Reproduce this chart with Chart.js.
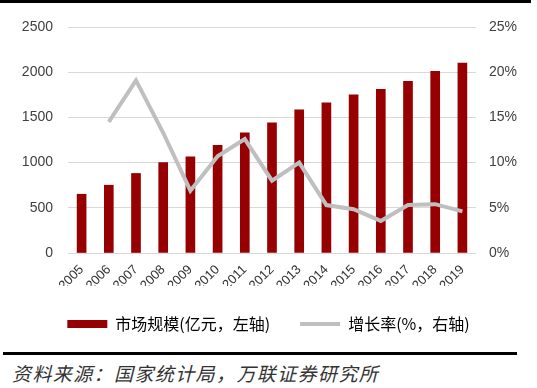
<!DOCTYPE html>
<html>
<head>
<meta charset="utf-8">
<script src="https://cdn.jsdelivr.net/npm/chart.js@4/dist/chart.umd.min.js"></script>
<style>
	html, body { margin: 0; padding: 0; background: #ffffff; }
	#wrap { position: relative; width: 537px; height: 388px; overflow: hidden; }
	#chartBox { position: absolute; left: 0; top: 0; width: 537px; height: 342px; }
	.rule { position: absolute; background: #000000; }
	#source {
		position: absolute; left: 12px; top: 361px;
		font-family: "Noto Sans CJK SC", sans-serif; font-style: italic;
		font-size: 19px; line-height: 24px; letter-spacing: 1.4px; color: #333333;
		white-space: nowrap;
	}
</style>
</head>
<body>
<div id="wrap">
	<div class="rule" style="left:0; top:0; width:531px; height:3px;"></div>
	<div id="chartBox"><canvas id="chart"></canvas></div>
	<div class="rule" style="left:3px; top:352px; width:514px; height:3px;"></div>
	<div id="source">资料来源：国家统计局，万联证券研究所</div>
</div>
<script>
// chart data
var years = ["2005","2006","2007","2008","2009","2010","2011","2012","2013","2014","2015","2016","2017","2018","2019"];
var marketSize = [650, 750, 880, 1000, 1065, 1190, 1330, 1440, 1585, 1660, 1750, 1810, 1900, 2010, 2100];
var growthRate = [null, 14.5, 19.1, 13.3, 6.9, 10.7, 12.6, 8.0, 10.0, 5.3, 4.85, 3.55, 5.3, 5.4, 4.6];
var leftTicks = [0, 500, 1000, 1500, 2000, 2500];
var rightTicks = [0, 5, 10, 15, 20, 25];
var seriesNames = ["市场规模(亿元，左轴)", "增长率(%，右轴)"];

var barColour = "#960000";
var lineColour = "#bfbfbf";
var tickFont = { family: "'Liberation Sans', Arial, sans-serif", size: 14 };

var canvas = document.getElementById("chart");

var myChart = new Chart(canvas, {
	data: {
		labels: years,
		datasets: [{
			type: "line",
			label: seriesNames[1],
			data: growthRate,
			yAxisID: "yRight",
			borderColor: lineColour,
			borderWidth: 4,
			pointRadius: 0,
			tension: 0,
			spanGaps: false,
			order: 0
		}, {
			type: "bar",
			label: seriesNames[0],
			data: marketSize,
			yAxisID: "yLeft",
			backgroundColor: barColour,
			barThickness: 9,
			order: 1
		}]
	},
	options: {
		responsive: true,
		maintainAspectRatio: false,
		animation: false,
		layout: { padding: { top: 27, left: 0, right: 0, bottom: 0 } },
		plugins: {
			tooltip: { enabled: false },
			legend: {
				position: "bottom",
				labels: {
					usePointStyle: true,
					pointStyleWidth: 40,
					boxHeight: 8,
					padding: 30,
					color: "#404040",
					font: { family: "'Noto Sans CJK SC', sans-serif", size: 16 },
					// bar first, then line, with custom swatches
					generateLabels: function(chart) {
						return [{
							text: seriesNames[0],
							fillStyle: barColour,
							strokeStyle: barColour,
							lineWidth: 0,
							pointStyle: "rect",
							datasetIndex: 1
						}, {
							text: seriesNames[1],
							fillStyle: lineColour,
							strokeStyle: lineColour,
							lineWidth: 4,
							pointStyle: "line",
							datasetIndex: 0
						}];
					}
				}
			}
		},
		scales: {
			x: {
				grid: { display: false },
				border: { display: false },
				ticks: {
					color: "#333333",
					font: { family: tickFont.family, size: 13 },
					maxRotation: 45,
					minRotation: 45,
					padding: 1
				},
				afterFit: function(scale) { scale.height = 33; }
			},
			yLeft: {
				position: "left",
				min: 0,
				max: 2500,
				afterBuildTicks: function(scale) {
					scale.ticks = leftTicks.map(function(v) { return { value: v }; });
				},
				grid: { color: "#d9d9d9", lineWidth: 1, drawTicks: false },
				border: { display: false },
				ticks: {
					color: "#404040",
					font: tickFont,
					padding: 15,
					callback: function(v) { return String(v); }
				},
				afterFit: function(scale) { scale.width = 68; }
			},
			yRight: {
				position: "right",
				min: 0,
				max: 25,
				afterBuildTicks: function(scale) {
					scale.ticks = rightTicks.map(function(v) { return { value: v }; });
				},
				grid: { display: false, drawTicks: false },
				border: { display: false },
				ticks: {
					color: "#404040",
					font: tickFont,
					padding: 13,
					callback: function(v) { return v + "%"; }
				},
				afterFit: function(scale) { scale.width = 61; }
			}
		}
	}
});
</script>
</body>
</html>
